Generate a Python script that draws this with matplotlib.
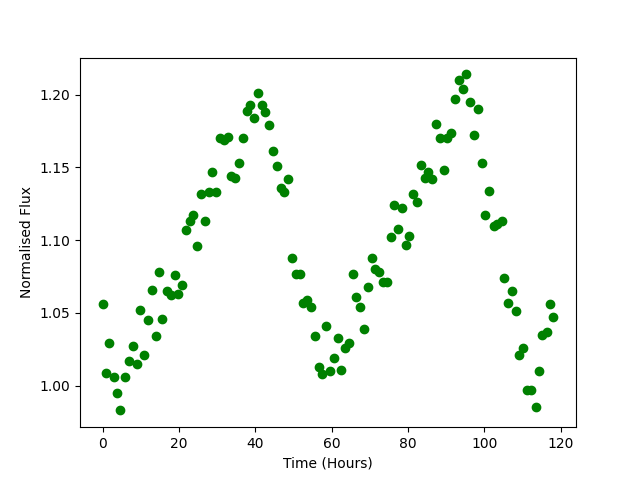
import matplotlib
matplotlib.use("Agg")
import matplotlib.pyplot as plt

# 観測時刻 (時間)
time_hours = [
    0.0, 0.8, 1.8, 2.9, 3.9, 4.7, 5.8, 6.8, 7.9, 8.9,
    9.7, 10.8, 11.8, 12.9, 13.9, 14.7, 15.7, 16.8, 17.8, 18.9,
    19.7, 20.7, 21.8, 22.8, 23.6, 24.7, 25.7, 26.8, 27.8, 28.6,
    29.7, 30.7, 31.8, 32.8, 33.6, 34.6, 35.7, 36.7, 37.8, 38.6,
    39.6, 40.7, 41.7, 42.5, 43.6, 44.6, 45.7, 46.7, 47.5, 48.6,
    49.6, 50.7, 51.7, 52.5, 53.5, 54.6, 55.6, 56.7, 57.5, 58.5,
    59.6, 60.6, 61.7, 62.5, 63.5, 64.6, 65.6, 66.4, 67.5, 68.5,
    69.6, 70.6, 71.4, 72.4, 73.5, 74.5, 75.6, 76.4, 77.4, 78.5,
    79.5, 80.3, 81.4, 82.4, 83.5, 84.5, 85.3, 86.4, 87.4, 88.5,
    89.5, 90.3, 91.3, 92.4, 93.4, 94.5, 95.3, 96.3, 97.4, 98.4,
    99.5, 100.3, 101.3, 102.4, 103.4, 104.5, 105.2, 106.3, 107.3, 108.4,
    109.2, 110.2, 111.3, 112.3, 113.4, 114.2, 115.2, 116.3, 117.3, 118.1,
]

# 正規化フラックス
flux = [
    1.056, 1.009, 1.029, 1.006, 0.995, 0.983, 1.006, 1.017, 1.027, 1.015,
    1.052, 1.021, 1.045, 1.066, 1.034, 1.078, 1.046, 1.065, 1.062, 1.076,
    1.063, 1.069, 1.107, 1.113, 1.117, 1.096, 1.132, 1.113, 1.133, 1.147,
    1.133, 1.170, 1.169, 1.171, 1.144, 1.143, 1.153, 1.170, 1.189, 1.193,
    1.184, 1.201, 1.193, 1.188, 1.179, 1.161, 1.151, 1.136, 1.133, 1.142,
    1.088, 1.077, 1.077, 1.057, 1.059, 1.054, 1.034, 1.013, 1.008, 1.041,
    1.010, 1.019, 1.033, 1.011, 1.026, 1.029, 1.077, 1.061, 1.054, 1.039,
    1.068, 1.088, 1.080, 1.078, 1.071, 1.071, 1.102, 1.124, 1.108, 1.122,
    1.097, 1.103, 1.132, 1.126, 1.152, 1.143, 1.147, 1.142, 1.180, 1.170,
    1.148, 1.170, 1.174, 1.197, 1.210, 1.204, 1.214, 1.195, 1.172, 1.190,
    1.153, 1.117, 1.134, 1.110, 1.111, 1.113, 1.074, 1.057, 1.065, 1.051,
    1.021, 1.026, 0.997, 0.997, 0.985, 1.010, 1.035, 1.037, 1.056, 1.047,
]

fig, ax = plt.subplots(figsize=(6.4, 4.8), dpi=100)
ax.plot(time_hours, flux, "o", color="green")
ax.set_xlabel("Time (Hours)")
ax.set_ylabel("Normalised Flux")

fig.savefig("out.png")
